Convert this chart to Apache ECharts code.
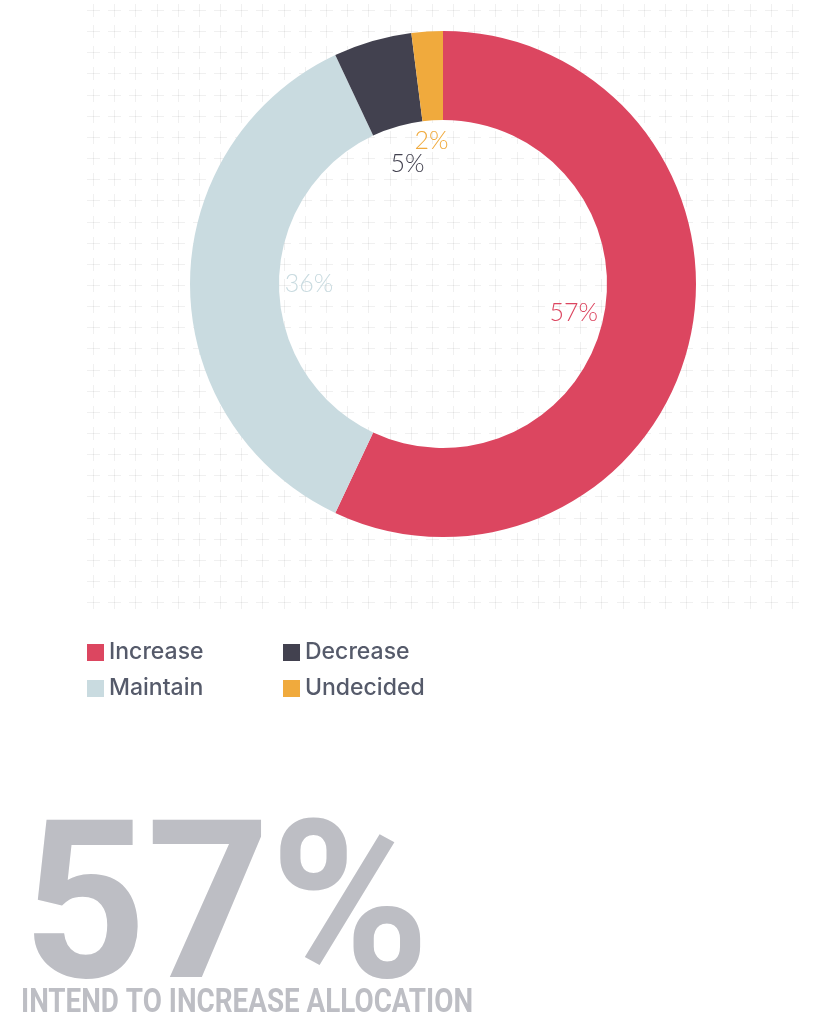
<!DOCTYPE html>
<html>
<head>
<meta charset="utf-8">
<script src="https://cdn.jsdelivr.net/npm/echarts@6/dist/echarts.min.js"></script>
<style>
html,body{margin:0;padding:0;background:#fff;}
#chart{width:814px;height:1024px;}
</style>
</head>
<body>
<div id="chart"></div>
<script>
// ---- data ----
const categories = ['Increase', 'Maintain', 'Decrease', 'Undecided'];
const values = [57, 36, 5, 2];
const headline = '57%';
const subtitle = 'INTEND TO INCREASE ALLOCATION';

// ---- styles ----
const colors = ['#dc4660', '#c9dbe0', '#42414f', '#f0aa3d'];
const labelNudge = [[0, 0], [0, 0], [2, 9], [-3, -9]];
const CX = 443, CY = 284;

const chart = echarts.init(document.getElementById('chart'), null, {renderer: 'canvas'});

// decorative plus-sign grid
const plusChildren = [];
const cols = 34, rows = 29;
for (let i = 0; i < cols; i++) {
  for (let j = 0; j < rows; j++) {
    const x = Math.round(93 + i * 21.18) + 0.5;
    const y = Math.round(10 + j * 21.15) + 0.5;
    const st = {stroke: 'rgba(0,0,0,0.06)', lineWidth: 1};
    plusChildren.push({type: 'line', silent: true, shape: {x1: x - 6.5, y1: y, x2: x + 6.5, y2: y}, style: st});
    plusChildren.push({type: 'line', silent: true, shape: {x1: x, y1: y - 6.5, x2: x, y2: y + 6.5}, style: st});
  }
}

const pieData = categories.map((n, i) => ({name: n, value: values[i], itemStyle: {color: colors[i]}}));
const ghostData = categories.map((n, i) => ({
  name: n, value: values[i],
  itemStyle: {color: 'rgba(0,0,0,0)'},
  label: {color: colors[i]}
}));

const legendCommon = {
  orient: 'vertical',
  icon: 'rect',
  itemWidth: 17,
  itemHeight: 17,
  itemGap: 13,
  itemTextGap: 12,
  padding: 0,
  selectedMode: false,
  textStyle: {fontFamily: 'Inter', fontWeight: 500, fontSize: 23, color: '#555a6a'}
};

chart.setOption({
  backgroundColor: '#ffffff',
  animation: false,
  legend: [
    Object.assign({}, legendCommon, {left: 87, top: 641, data: [categories[0], categories[1]]}),
    Object.assign({}, legendCommon, {left: 283, top: 641, data: [categories[2], categories[3]]})
  ],
  series: [
    {
      type: 'pie',
      center: [CX, CY],
      radius: [164, 253],
      startAngle: 90,
      clockwise: true,
      label: {show: false},
      labelLine: {show: false},
      emphasis: {scale: false},
      data: pieData
    },
    {
      type: 'pie',
      center: [CX, CY],
      radius: [0, 262],
      startAngle: 90,
      clockwise: true,
      silent: true,
      avoidLabelOverlap: false,
      legendHoverLink: false,
      label: {
        show: true,
        position: 'inner',
        formatter: '{c}%',
        fontFamily: 'Lato',
        fontWeight: 300,
        fontSize: 25
      },
      labelLine: {show: false},
      labelLayout: function (p) {
        const n = labelNudge[p.dataIndex] || [0, 0];
        return {dx: n[0], dy: n[1]};
      },
      data: ghostData
    }
  ],
  graphic: [
    {type: 'group', z: 10, silent: true, children: plusChildren},
    {
      type: 'text', x: 23, y: 922, scaleX: 0.975, silent: true,
      style: {text: headline, fontFamily: 'Roboto', fontWeight: 'bold', fontSize: 221, fill: '#bdbec4', textAlign: 'left', textVerticalAlign: 'middle'}
    },
    {
      type: 'text', x: 21, y: 1003, scaleX: 0.818, silent: true,
      style: {text: subtitle, fontFamily: 'Roboto', fontWeight: 'bold', fontSize: 34, fill: '#bdbec4', textAlign: 'left', textVerticalAlign: 'middle'}
    }
  ]
});
</script>
</body>
</html>
